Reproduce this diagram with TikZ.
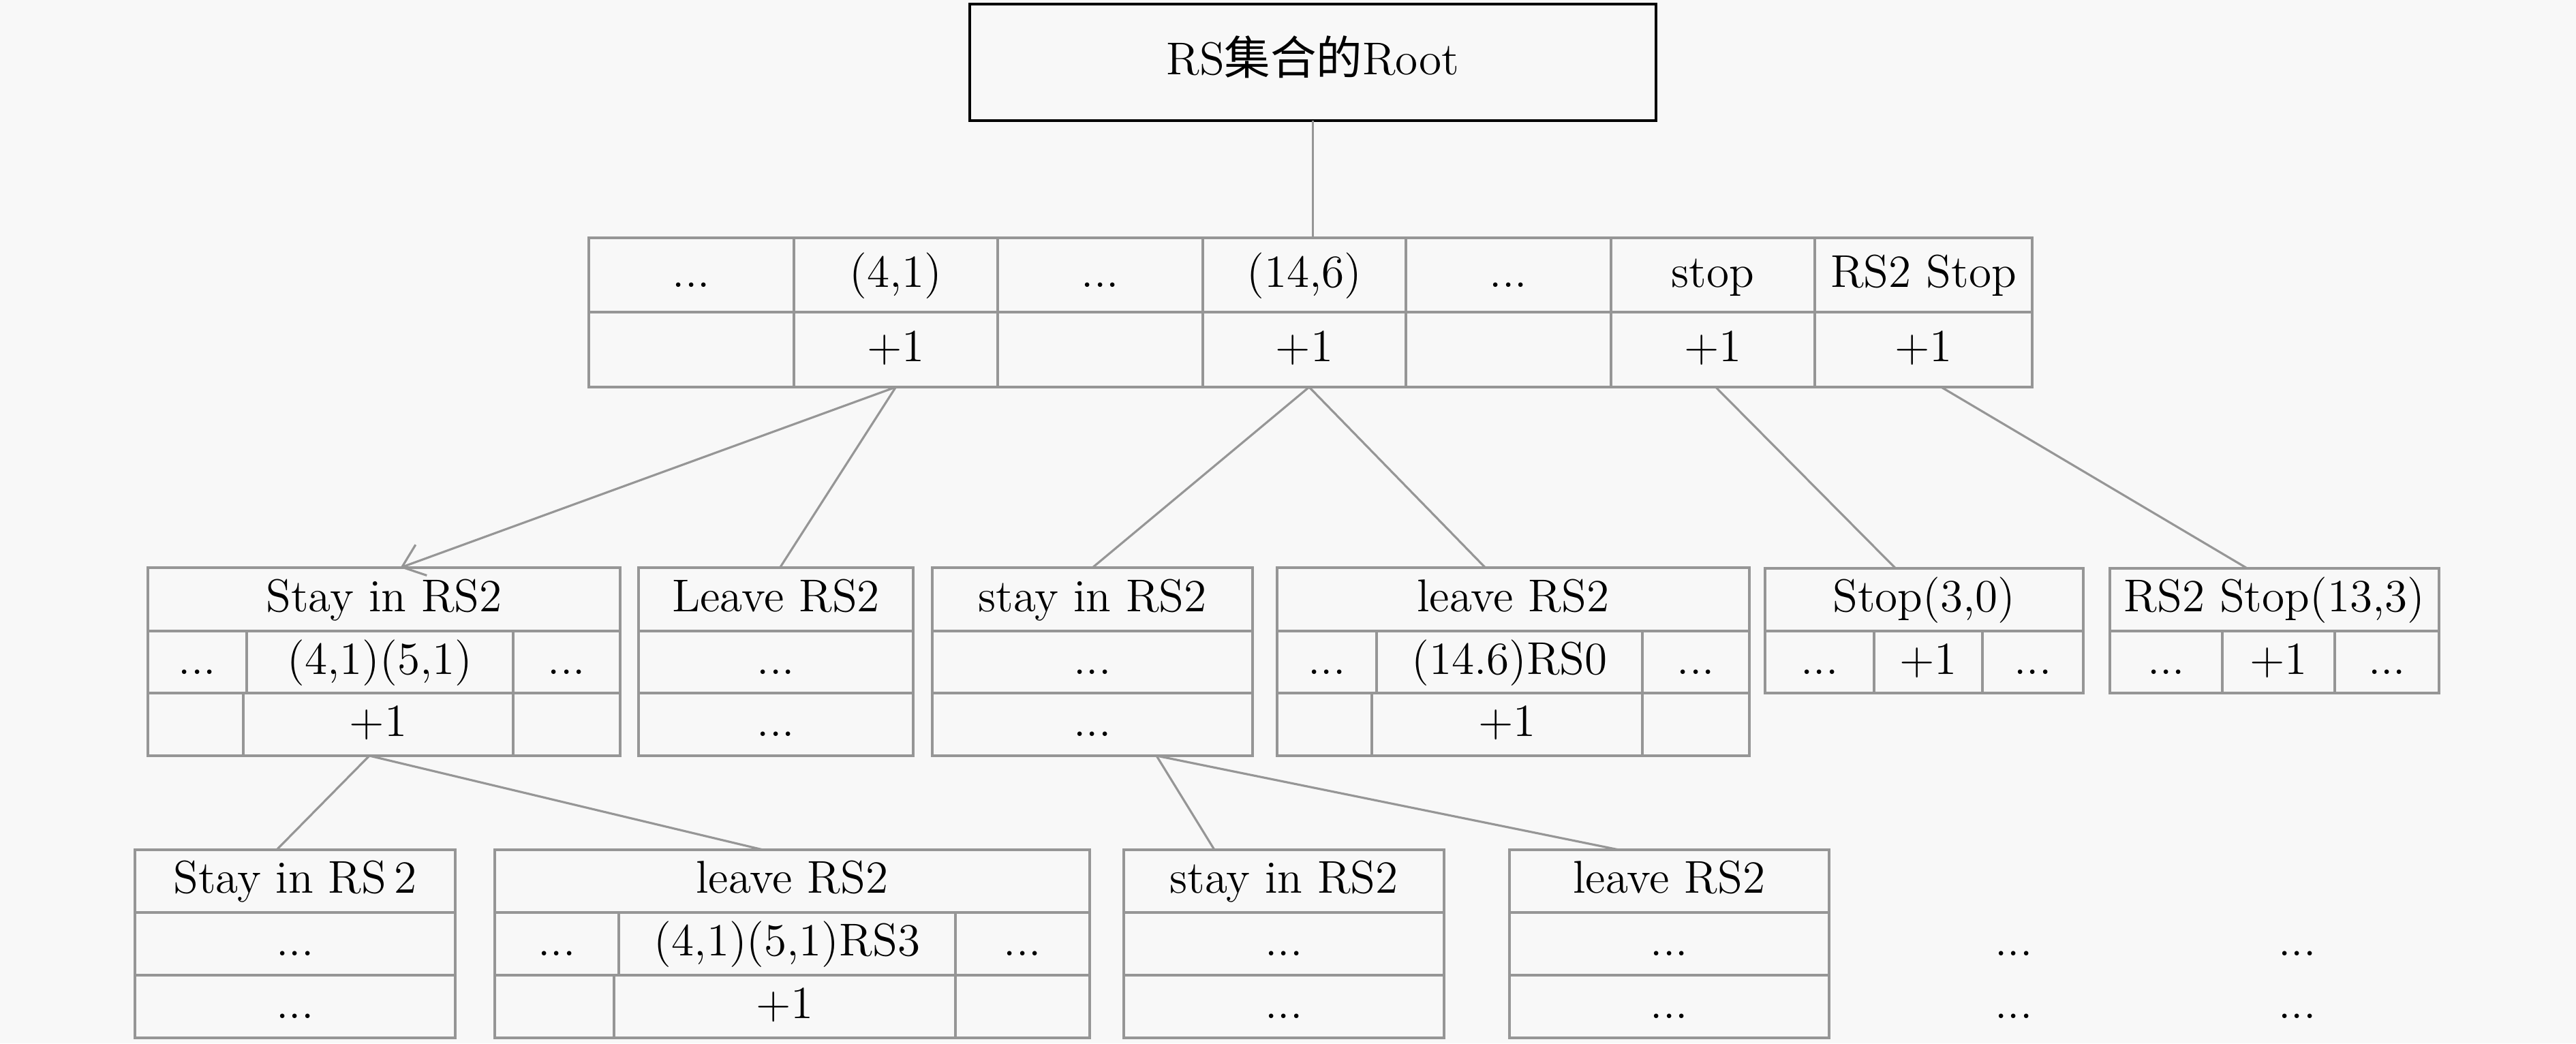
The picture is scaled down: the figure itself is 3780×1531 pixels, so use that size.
\documentclass[tikz,border=0pt]{standalone}
\usepackage{fontspec}
\setmainfont{lmroman12-regular}[Extension=.otf]
\newfontfamily\cjk{Noto Sans CJK SC}
\usetikzlibrary{arrows.meta,calc}
\definecolor{bg}{RGB}{248,248,248}
\definecolor{lg}{RGB}{150,150,150}
\newcommand\cellat[6]{\node[cell,minimum width={(#4-(#2))*0.1mm},minimum height={(#5-(#3))*0.1mm},anchor=north west] (#1) at (#2,#3) {#6};}
\begin{document}
\begin{tikzpicture}[x=0.1mm,y=-0.1mm,
  every node/.style={font=\fontsize{19.2}{23}\selectfont, text height=15pt, text depth=5pt, inner sep=0pt, outer sep=0pt},
  cell/.style={draw=lg, line width=1pt},
  conn/.style={draw=lg, line width=0.9pt},
  rootbox/.style={draw=black, line width=1.3pt}]
\fill[bg] (0,0) rectangle (3780,1531);
\useasboundingbox (0,0) rectangle (3780,1531);
% root
\node[rootbox, minimum width={1007*0.1mm}, minimum height={171*0.1mm}, anchor=north west] (R) at (1423,6) {RS{\cjk 集合的}Root};
% top table
\cellat{T1a}{864}{349}{1165}{458}{...}
\cellat{T2a}{1165}{349}{1464}{458}{(4,1)}
\cellat{T3a}{1464}{349}{1765}{458}{...}
\cellat{T4a}{1765}{349}{2063}{458}{(14,6)}
\cellat{T5a}{2063}{349}{2364}{458}{...}
\cellat{T6a}{2364}{349}{2663}{458}{stop}
\cellat{T7a}{2663}{349}{2982}{458}{RS2 Stop}
\cellat{T1b}{864}{458}{1165}{568}{}
\cellat{T2b}{1165}{458}{1464}{568}{+1}
\cellat{T3b}{1464}{458}{1765}{568}{}
\cellat{T4b}{1765}{458}{2063}{568}{+1}
\cellat{T5b}{2063}{458}{2364}{568}{}
\cellat{T6b}{2364}{458}{2663}{568}{+1}
\cellat{T7b}{2663}{458}{2982}{568}{+1}
% A
\cellat{A1}{217}{833}{910}{926}{Stay in RS2}
\cellat{A2a}{217}{926}{362}{1017}{...}
\cellat{A2b}{362}{926}{753}{1017}{(4,1)(5,1)}
\cellat{A2c}{753}{926}{910}{1017}{...}
\cellat{A3a}{217}{1017}{357}{1109}{}
\cellat{A3b}{357}{1017}{753}{1109}{+1}
\cellat{A3c}{753}{1017}{910}{1109}{}
% B
\cellat{B1}{937}{833}{1340}{926}{Leave RS2}
\cellat{B2}{937}{926}{1340}{1017}{...}
\cellat{B3}{937}{1017}{1340}{1109}{...}
% C
\cellat{C1}{1368}{833}{1838}{926}{stay in RS2}
\cellat{C2}{1368}{926}{1838}{1017}{...}
\cellat{C3}{1368}{1017}{1838}{1109}{...}
% D
\cellat{D1}{1874}{833}{2567}{926}{leave RS2}
\cellat{D2a}{1874}{926}{2020}{1017}{...}
\cellat{D2b}{2020}{926}{2410}{1017}{(14.6)RS0}
\cellat{D2c}{2410}{926}{2567}{1017}{...}
\cellat{D3a}{1874}{1017}{2013}{1109}{}
\cellat{D3b}{2013}{1017}{2410}{1109}{+1}
\cellat{D3c}{2410}{1017}{2567}{1109}{}
% E
\cellat{E1}{2590}{834}{3057}{926}{Stop(3,0)}
\cellat{E2a}{2590}{926}{2750}{1017}{...}
\cellat{E2b}{2750}{926}{2909}{1017}{+1}
\cellat{E2c}{2909}{926}{3057}{1017}{...}
% F
\cellat{F1}{3096}{834}{3579}{926}{RS2 Stop(13,3)}
\cellat{F2a}{3096}{926}{3261}{1017}{...}
\cellat{F2b}{3261}{926}{3426}{1017}{+1}
\cellat{F2c}{3426}{926}{3579}{1017}{...}
% G
\cellat{G1}{198}{1247}{668}{1339}{Stay in RS\,2}
\cellat{G2}{198}{1339}{668}{1431}{...}
\cellat{G3}{198}{1431}{668}{1523}{...}
% H
\cellat{H1}{726}{1247}{1599}{1339}{leave RS2}
\cellat{H2a}{726}{1339}{908}{1431}{...}
\cellat{H2b}{908}{1339}{1402}{1431}{(4,1)(5,1)RS3}
\cellat{H2c}{1402}{1339}{1599}{1431}{...}
\cellat{H3a}{726}{1431}{901}{1523}{}
\cellat{H3b}{901}{1431}{1402}{1523}{+1}
\cellat{H3c}{1402}{1431}{1599}{1523}{}
% I
\cellat{I1}{1649}{1247}{2119}{1339}{stay in RS2}
\cellat{I2}{1649}{1339}{2119}{1431}{...}
\cellat{I3}{1649}{1431}{2119}{1523}{...}
% J
\cellat{J1}{2215}{1247}{2684}{1339}{leave RS2}
\cellat{J2}{2215}{1339}{2684}{1431}{...}
\cellat{J3}{2215}{1431}{2684}{1523}{...}
% stray dots
\node (X1) at (2955,1385) {...};
\node (X2) at (3371,1385) {...};
\node (X3) at (2955,1477) {...};
\node (X4) at (3371,1477) {...};
% connectors
\draw[conn] (R.south) -- (R.south |- T4a.north);
\draw[conn,-{Straight Barb[length=3mm,width=4.8mm]}] (T2b.south) -- ($(A1.north)+(24,0)$);
\draw[conn] (T2b.south) -- ($(B1.north)+(6,0)$);
\draw[conn] ($(T4b.south)+(7,0)$) -- (C1.north);
\draw[conn] ($(T4b.south)+(7,0)$) -- ($(D1.north)+(-41,0)$);
\draw[conn] ($(T6b.south)+(4,0)$) -- ($(E1.north)+(-42,0)$);
\draw[conn] ($(T7b.south)+(26,0)$) -- ($(F1.north)+(-40,0)$);
\draw[conn] ($(A3b.south)+(-13,0)$) -- ($(G1.north)+(-27,0)$);
\draw[conn] ($(A3b.south)+(-13,0)$) -- ($(H1.north)+(-43,0)$);
\draw[conn] ($(C3.south)+(94,0)$) -- ($(I1.north)+(-102,0)$);
\draw[conn] ($(C3.south)+(94,0)$) -- ($(J1.north)+(-74,0)$);
\end{tikzpicture}
\end{document}
